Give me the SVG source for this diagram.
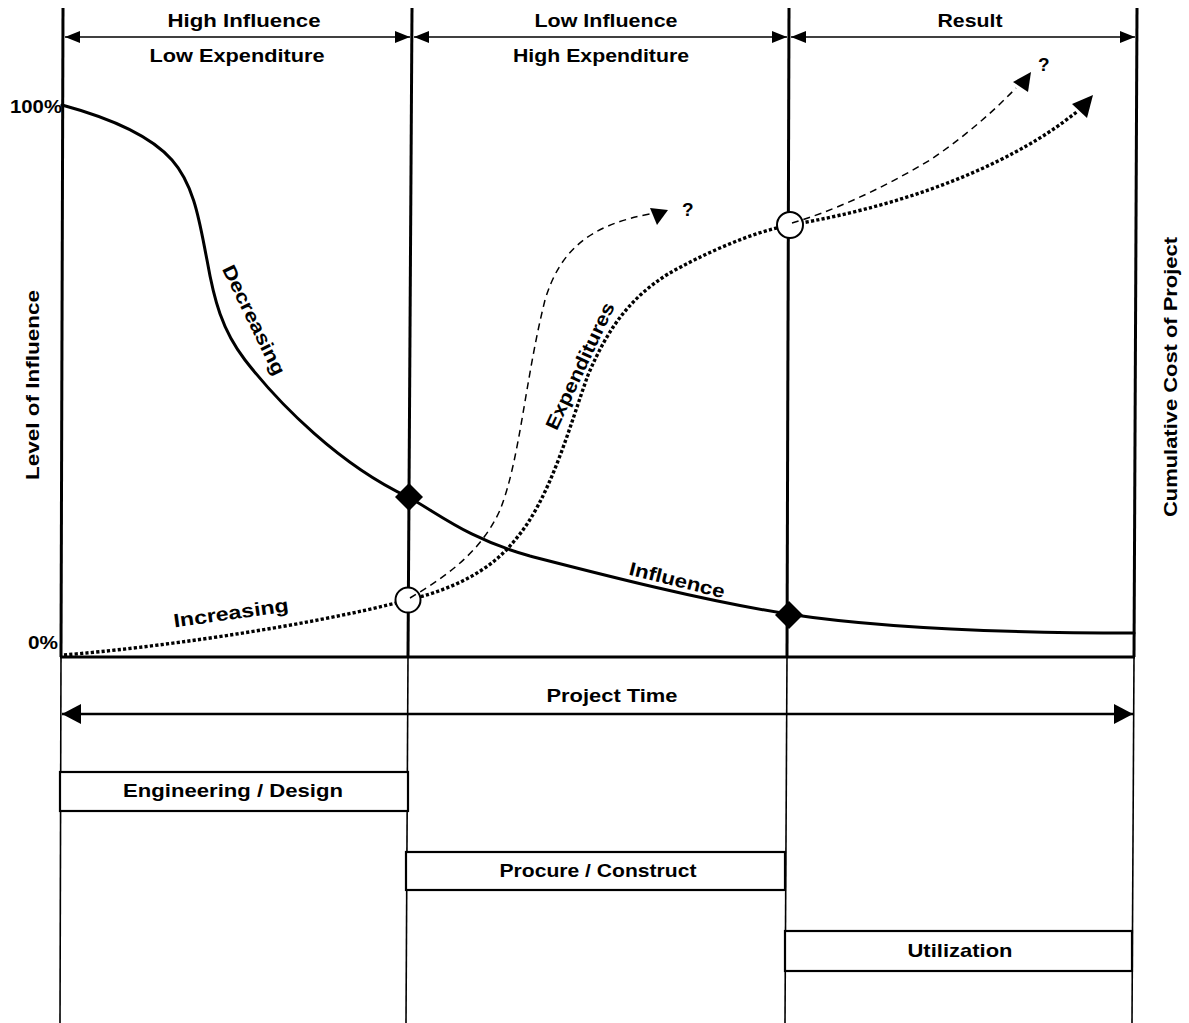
<svg xmlns="http://www.w3.org/2000/svg" width="1189" height="1023" viewBox="0 0 1189 1023">
  <style>
    .t { font-family: "Liberation Sans", Arial, Helvetica, sans-serif; font-weight: bold; font-size: 19px; fill: #000; }
    .mid { text-anchor: middle; }
    .axis { stroke: #000; stroke-width: 3; fill: none; }
    .thin { stroke: #000; stroke-width: 1.6; fill: none; }
    .span { stroke: #000; stroke-width: 1.6; fill: none; marker-start: url(#hd); marker-end: url(#hd); }
    .influence { stroke: #000; stroke-width: 3; fill: none; stroke-linecap: round; }
    .cost { stroke: #000; stroke-width: 3.4; fill: none; stroke-dasharray: 3.2 2.2; }
    .alt { stroke: #000; stroke-width: 1.5; fill: none; stroke-dasharray: 7 5; }
    .bar { fill: #fff; stroke: #000; stroke-width: 2.2; }
    .open { fill: #fff; stroke: #000; stroke-width: 2; }
  </style>
  <defs>
    <marker id="hd" viewBox="0 0 15 12" refX="15" refY="6" markerWidth="15" markerHeight="12" markerUnits="userSpaceOnUse" orient="auto-start-reverse">
      <path d="M0,0 L15,6 L0,12 z" fill="#000"/>
    </marker>
    <marker id="pt" viewBox="0 0 19 20" refX="19" refY="10" markerWidth="19" markerHeight="20" markerUnits="userSpaceOnUse" orient="auto-start-reverse">
      <path d="M0,0 L19,10 L0,20 z" fill="#000"/>
    </marker>
  </defs>

  <rect width="1189" height="1023" fill="#fff"/>

  <!-- phase dividers and base line -->
  <g id="frame">
    <line class="axis" x1="63" y1="8" x2="61" y2="657"/>
    <line class="axis" x1="412" y1="8" x2="408" y2="657"/>
    <line class="axis" x1="789" y1="8" x2="787" y2="657"/>
    <line class="axis" x1="1137" y1="8" x2="1134" y2="657"/>
    <line class="thin" x1="61" y1="657" x2="60" y2="1023"/>
    <line class="thin" x1="408" y1="657" x2="406" y2="1023"/>
    <line class="thin" x1="787" y1="657" x2="785" y2="1023"/>
    <line class="thin" x1="1134" y1="657" x2="1132" y2="1023"/>
    <line class="axis" x1="60" y1="657" x2="1135" y2="657"/>
  </g>

  <!-- axis labels -->
  <g id="axis-labels">
    <text class="t" x="10" y="113" textLength="52" lengthAdjust="spacingAndGlyphs">100%</text>
    <text class="t" x="28" y="649" textLength="30" lengthAdjust="spacingAndGlyphs">0%</text>
    <text class="t mid" transform="translate(32,385) rotate(-90)" x="0" y="7" textLength="190" lengthAdjust="spacingAndGlyphs">Level of Influence</text>
    <text class="t mid" transform="translate(1170,377) rotate(-90)" x="0" y="7" textLength="280" lengthAdjust="spacingAndGlyphs">Cumulative Cost of Project</text>
  </g>

  <!-- phase headers -->
  <g id="phase-1-header">
    <text class="t mid" x="244" y="27" textLength="153" lengthAdjust="spacingAndGlyphs">High Influence</text>
    <text class="t mid" x="237" y="62" textLength="175" lengthAdjust="spacingAndGlyphs">Low Expenditure</text>
  </g>
  <g id="phase-2-header">
    <text class="t mid" x="606" y="27" textLength="143" lengthAdjust="spacingAndGlyphs">Low Influence</text>
    <text class="t mid" x="601" y="62" textLength="176" lengthAdjust="spacingAndGlyphs">High Expenditure</text>
  </g>
  <g id="phase-3-header">
    <text class="t mid" x="970" y="27" textLength="65" lengthAdjust="spacingAndGlyphs">Result</text>
  </g>

  <!-- curves and span arrows -->
  <g id="connectors">
    <line class="span" x1="65" y1="37" x2="410" y2="37"/>
    <line class="span" x1="414" y1="37" x2="787" y2="37"/>
    <line class="span" x1="791" y1="37" x2="1135" y2="37"/>

    <line x1="62" y1="714" x2="1133" y2="714" stroke="#000" stroke-width="2.4" marker-start="url(#pt)" marker-end="url(#pt)"/>

    <!-- level of influence -->
    <path class="influence" d="M62,105 C110,118 150,135 172,160 C195,186 200,225 207,260 C214,300 222,330 245,360 C280,405 340,465 408,497 C438,513 466,538 530,556 C600,574 700,600 788,614 C860,625 960,633 1134,633"/>

    <!-- cumulative cost -->
    <path class="cost" d="M64,655 C150,648 300,628 408,600 C450,590 490,572 515,540 C550,500 570,425 588,375 C608,328 630,298 668,274 C703,254 752,232 790,225 C850,215 930,195 1000,160 C1040,140 1060,125 1078,111"/>
    <polygon points="1093,95 1072,104 1087,118" fill="#000"/>
  </g>

  <!-- milestones -->
  <g id="milestone-design-end">
    <polygon points="409,483 423,497 409,511 395,497" fill="#000"/>
    <circle class="open" cx="408" cy="600" r="12.5"/>
  </g>
  <g id="milestone-build-end">
    <polygon points="789,601 803,615 789,629 775,615" fill="#000"/>
    <circle class="open" cx="790" cy="225" r="13"/>
  </g>

  <!-- possible cost paths -->
  <g id="alternatives">
    <path class="alt" d="M410,598 C440,580 480,555 500,510 C520,460 525,380 545,300 C560,250 590,225 650,214"/>
    <polygon points="668,210 650,208 657,225" fill="#000"/>
    <text class="t" x="682" y="216" font-size="20">?</text>
    <path class="alt" d="M792,223 C830,212 880,190 930,160 C960,140 990,115 1016,88"/>
    <polygon points="1031,72 1013,82 1028,92" fill="#000"/>
    <text class="t" x="1038" y="71" font-size="20">?</text>
  </g>

  <!-- curve labels -->
  <g id="curve-labels">
    <text class="t mid" transform="translate(254,320) rotate(64)" x="0" y="6.5" textLength="120" lengthAdjust="spacingAndGlyphs">Decreasing</text>
    <text class="t mid" transform="translate(580,366) rotate(-65)" x="0" y="6.5" textLength="138" lengthAdjust="spacingAndGlyphs">Expenditures</text>
    <text class="t mid" transform="translate(677,580) rotate(14)" x="0" y="6.5" textLength="98" lengthAdjust="spacingAndGlyphs">Influence</text>
    <text class="t mid" transform="translate(231,613) rotate(-8)" x="0" y="6.5" textLength="116" lengthAdjust="spacingAndGlyphs">Increasing</text>
  </g>

  <text class="t mid" x="612" y="702" textLength="131" lengthAdjust="spacingAndGlyphs">Project Time</text>

  <!-- project phases -->
  <g id="engineering-design">
    <rect class="bar" x="60" y="772" width="348" height="39"/>
    <text class="t mid" x="233" y="797" textLength="220" lengthAdjust="spacingAndGlyphs">Engineering / Design</text>
  </g>
  <g id="procure-construct">
    <rect class="bar" x="406" y="852" width="379" height="38"/>
    <text class="t mid" x="598" y="877" textLength="197" lengthAdjust="spacingAndGlyphs">Procure / Construct</text>
  </g>
  <g id="utilization">
    <rect class="bar" x="785" y="931" width="347" height="40"/>
    <text class="t mid" x="960" y="957" textLength="105" lengthAdjust="spacingAndGlyphs">Utilization</text>
  </g>
</svg>
